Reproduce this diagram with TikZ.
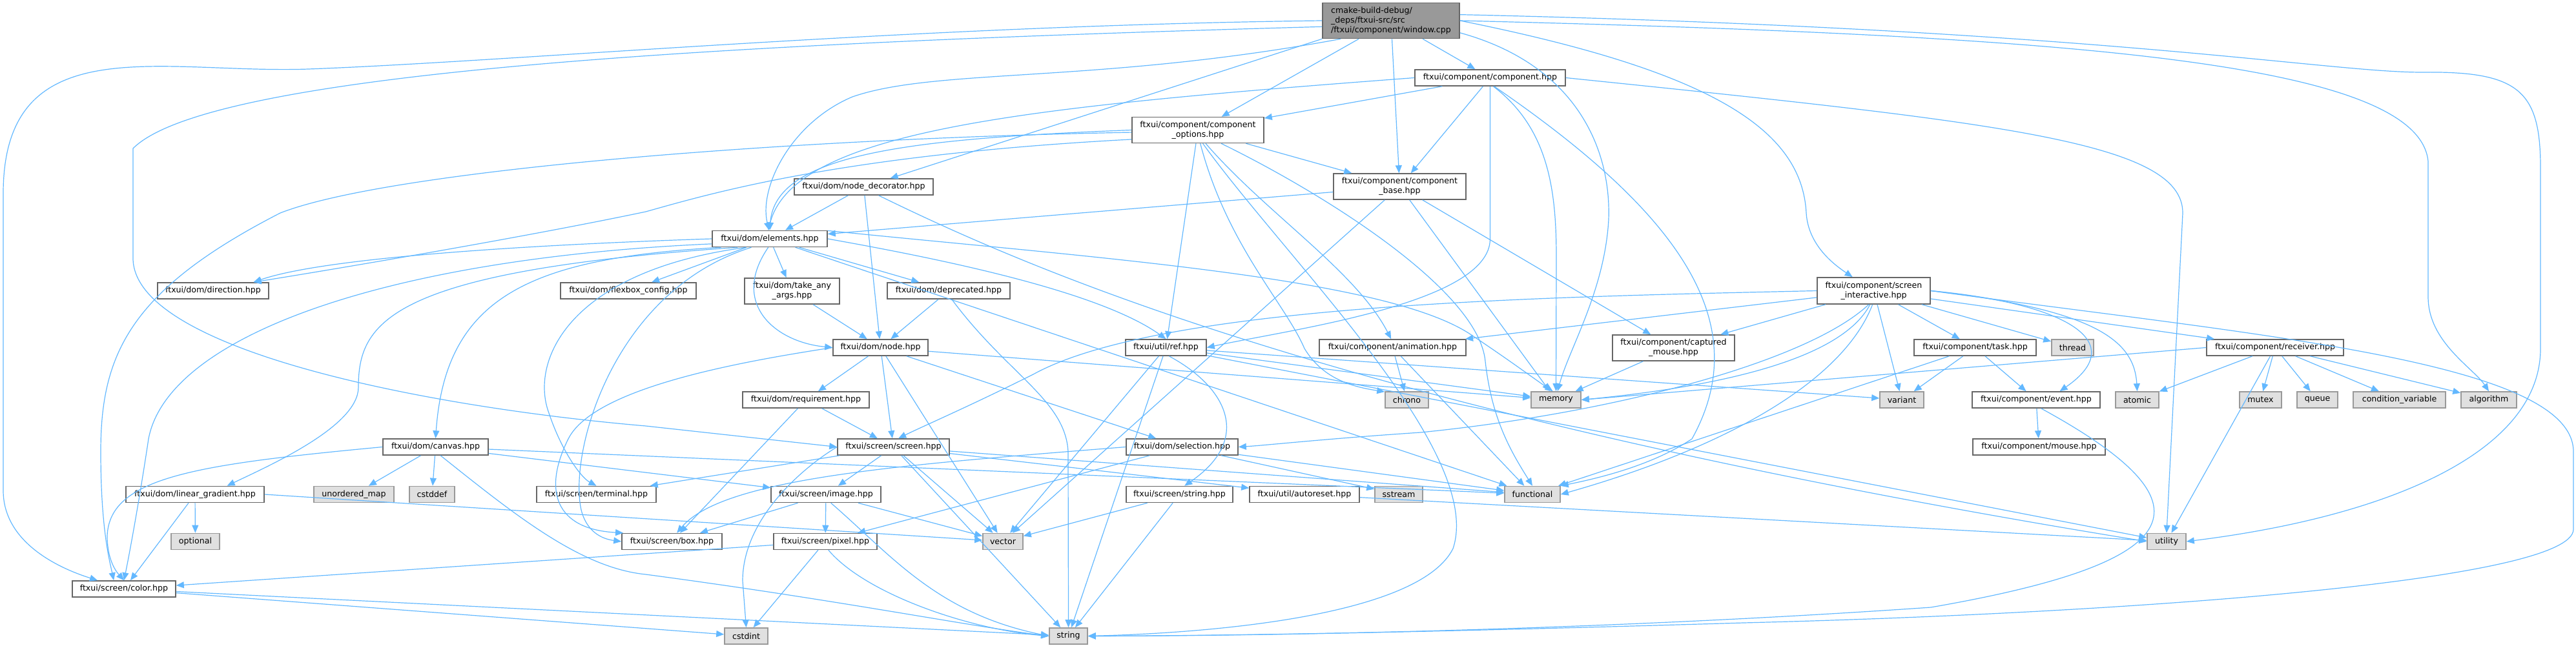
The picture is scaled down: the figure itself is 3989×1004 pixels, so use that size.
\documentclass[tikz,border=0pt]{standalone}
\usepackage{fontspec}
\setmainfont{DejaVu Sans}
\usetikzlibrary{arrows.meta}
\definecolor{edgec}{HTML}{63B8FF}
\definecolor{bord}{HTML}{666666}
\definecolor{sysfill}{HTML}{E0E0E0}
\definecolor{sysbord}{HTML}{999999}
\definecolor{rootfill}{HTML}{999999}
\begin{document}
\begin{tikzpicture}[x=0.5pt,y=-0.5pt,
 hb/.style={draw=bord,fill=white,line width=0.8pt,inner sep=0pt,align=center,font=\fontsize{6.3}{7.5}\selectfont,minimum height=12.5pt},
 sb/.style={hb,draw=sysbord,fill=sysfill},
 rb/.style={hb,fill=rootfill,align=left},
 w/.style={minimum width=#1*0.5pt},
 h/.style={minimum height=#1*0.5pt},
 e/.style={draw=edgec,line width=0.6pt,-{Triangle[length=6pt,width=5pt]}}]
\useasboundingbox (0,0) rectangle (3989,1004);
% nodes
\node[rb,w=212,h=55] (root) at (2154,32) {cmake-build-debug/\\\_deps/ftxui-src/src\\/ftxui/component/window.cpp};
\node[hb,w=233] (comp) at (2307.5,120.5) {ftxui/component/component.hpp};
\node[hb,w=205,h=40] (base) at (2167.5,289) {ftxui/component/component\\\_base.hpp};
\node[hb,w=204,h=40] (opts) at (1855,201.5) {ftxui/component/component\\\_options.hpp};
\node[hb,w=215] (ndec) at (1337.5,289.5) {ftxui/dom/node\_decorator.hpp};
\node[hb,w=178] (elem) at (1192,370) {ftxui/dom/elements.hpp};
\node[hb,w=172] (dir) at (330,450.5) {ftxui/dom/direction.hpp};
\node[hb,w=210] (flex) at (973,450.5) {ftxui/dom/flexbox\_config.hpp};
\node[hb,w=147,h=40] (take) at (1226.5,451) {ftxui/dom/take\_any\\\_args.hpp};
\node[hb,w=190] (depr) at (1469,450.5) {ftxui/dom/deprecated.hpp};
\node[hb,w=147] (nodeh) at (1363.5,538.5) {ftxui/dom/node.hpp};
\node[hb,w=196] (req) at (1248,619.5) {ftxui/dom/requirement.hpp};
\node[hb,w=125] (ref) at (1805.5,538.5) {ftxui/util/ref.hpp};
\node[hb,w=227] (anim) at (2156.5,538.5) {ftxui/component/animation.hpp};
\node[hb,w=189,h=40] (capt) at (2591.5,539) {ftxui/component/captured\\\_mouse.hpp};
\node[hb,w=175,h=41] (sint) at (2901.5,450.5) {ftxui/component/screen\\\_interactive.hpp};
\node[sb,w=67] (chrono) at (2178.5,619.5) {chrono};
\node[sb,w=77] (memory) at (2409.5,619.5) {memory};
\node[sb,w=68] (variant) at (2945,619.5) {variant};
\node[hb,w=189] (task) at (3058.5,538.5) {ftxui/component/task.hpp};
\node[sb,w=65] (thread) at (3209.5,538.5) {thread};
\node[hb,w=212] (recv) at (3523,538.5) {ftxui/component/receiver.hpp};
\node[hb,w=198] (event) at (3153,619.5) {ftxui/component/event.hpp};
\node[sb,w=67] (atomic) at (3309.5,619.5) {atomic};
\node[sb,w=65] (mutex) at (3500.5,619.5) {mutex};
\node[sb,w=63] (queue) at (3588.5,619.5) {queue};
\node[sb,w=143] (condvar) at (3715.5,619.5) {condition\_variable};
\node[sb,w=86] (algo) at (3854,619.5) {algorithm};
\node[hb,w=163] (canvas) at (674.5,692.5) {ftxui/dom/canvas.hpp};
\node[hb,w=214] (lgrad) at (302,766) {ftxui/dom/linear\_gradient.hpp};
\node[sb,w=124] (umap) at (548,766) {unordered\_map};
\node[sb,w=70] (cstddef) at (669,766) {cstddef};
\node[hb,w=185] (term) at (923.5,766) {ftxui/screen/terminal.hpp};
\node[sb,w=75] (optional) at (302.5,839) {optional};
\node[hb,w=160] (color) at (192,912.5) {ftxui/screen/color.hpp};
\node[hb,w=155] (box) at (1040.5,839) {ftxui/screen/box.hpp};
\node[hb,w=173] (screen) at (1383.5,692.5) {ftxui/screen/screen.hpp};
\node[hb,w=173] (sel) at (1830.5,692.5) {ftxui/dom/selection.hpp};
\node[hb,w=170] (image) at (1279,766) {ftxui/screen/image.hpp};
\node[hb,w=165] (strh) at (1826.5,766) {ftxui/screen/string.hpp};
\node[hb,w=170] (autor) at (2020,766) {ftxui/util/autoreset.hpp};
\node[hb,w=160] (pixel) at (1278,839) {ftxui/screen/pixel.hpp};
\node[sb,w=62] (vector) at (1553,839) {vector};
\node[sb,w=67] (cstdint) at (1155.5,985.5) {cstdint};
\node[sb,w=59] (string) at (1654.5,985.5) {string};
\node[sb,w=74] (sstream) at (2166,766) {sstream};
\node[sb,w=86] (functional) at (2373,766) {functional};
\node[hb,w=205] (mouse) at (3157.5,692.5) {ftxui/component/mouse.hpp};
\node[sb,w=60] (utility) at (3355,839) {utility};
% root edges
\draw[e] (root) -- (comp);
\draw[e] (root) -- (base);
\draw[e] (root) -- (opts);
\draw[e] (root.south west) -- (ndec);
\draw[e] (root.200) .. controls (1700,130) and (1450,105) .. (1320,150) .. controls (1225,190) and (1175,290) .. (elem.95);
\draw[e] (root.west) .. controls (1400,40) and (800,95) .. (478,107) .. controls (250,115) and (5,40) .. (5,300) -- (5,760) .. controls (5,840) and (90,880) .. (color.162);
\draw[e] (root.185) .. controls (1200,65) and (330,105) .. (206,230) -- (206,400) .. controls (206,540) and (650,630) .. (1000,660) -- (screen.west);
\draw[e] (root.east) .. controls (2650,110) and (2790,200) .. (2797,330) .. controls (2800,380) and (2840,410) .. (sint.147);
\draw[e] (root.-10) .. controls (2440,100) and (2495,230) .. (2491,340) .. controls (2485,450) and (2430,540) .. (memory.80);
\draw[e] (root.east) .. controls (3200,55) and (3745,95) .. (3760,250) -- (3760,460) .. controls (3760,530) and (3830,570) .. (algo.north);
\draw[e] (root.5) .. controls (3250,45) and (3600,112) .. (3750,112) .. controls (3900,110) and (3934,140) .. (3934,260) -- (3934,540) .. controls (3934,700) and (3700,800) .. (utility.east);
% component.hpp
\draw[e] (comp) -- (base);
\draw[e] (comp) -- (opts);
\draw[e] (comp.west) .. controls (1600,165) and (1230,200) .. (elem.100);
\draw[e] (comp.south) -- (2307.5,370) .. controls (2307.5,470) and (2000,510) .. (ref.east);
\draw[e] (comp.290) .. controls (2400,200) and (2410,300) .. (2410,400) -- (memory.north);
\draw[e] (comp.295) .. controls (2600,330) and (2720,500) .. (2620,680) .. controls (2560,720) and (2480,740) .. (functional.north east);
\draw[e] (comp.east) .. controls (3100,190) and (3380,220) .. (3380,330) -- (utility.north);
% component_options
\draw[e] (opts) -- (base);
\draw[e] (opts.west) .. controls (1400,215) and (1200,240) .. (elem.90);
\draw[e] (opts.188) .. controls (1300,240) and (1100,300) .. (1000,328) .. controls (800,370) and (500,420) .. (dir.12);
\draw[e] (opts.182) .. controls (1200,215) and (600,265) .. (434,330) .. controls (200,450) and (156,550) .. (156,700) .. controls (156,820) and (170,870) .. (color.140);
\draw[e] (opts) -- (ref);
\draw[e] (opts.-60) .. controls (1960,330) and (2100,420) .. (anim.100);
\draw[e] (opts.-80) .. controls (1900,380) and (1990,470) .. (2020,540) .. controls (2050,590) and (2100,600) .. (chrono.160);
\draw[e] (opts.-30) .. controls (2050,300) and (2290,450) .. (2300,560) .. controls (2310,650) and (2340,700) .. (functional.north);
\draw[e] (opts.-70) .. controls (1990,400) and (2300,700) .. (2250,850) .. controls (2200,950) and (1900,980) .. (string.east);
% component_base
\draw[e] (base) -- (elem);
\draw[e] (base) -- (capt);
\draw[e] (base) -- (memory);
\draw[e] (base) -- (vector);
% node_decorator
\draw[e] (ndec) -- (elem);
\draw[e] (ndec) -- (nodeh);
\draw[e] (ndec.-30) .. controls (1600,420) and (2100,640) .. (utility.west);
% elements
\draw[e] (elem.west) .. controls (800,380) and (500,400) .. (dir.12);
\draw[e] (elem) -- (flex);
\draw[e] (elem.190) .. controls (820,400) and (690,460) .. (canvas.north);
\draw[e] (elem.195) .. controls (600,420) and (555,500) .. (555,600) .. controls (555,660) and (420,720) .. (lgrad.15);
\draw[e] (elem.185) .. controls (600,400) and (260,520) .. (230,680) .. controls (215,780) and (200,860) .. (color.north);
\draw[e] (elem.200) .. controls (880,420) and (820,560) .. (850,640) .. controls (870,700) and (900,740) .. (term.north);
\draw[e] (elem.205) .. controls (950,450) and (880,700) .. (900,790) .. controls (910,830) and (940,836) .. (box.west);
\draw[e] (elem) -- (take);
\draw[e] (elem) -- (depr);
\draw[e] (elem.260) .. controls (1130,470) and (1200,530) .. (nodeh.west);
\draw[e] (elem.east) .. controls (1450,400) and (1700,450) .. (ref.north);
\draw[e] (elem.8) .. controls (1700,400) and (2150,430) .. (2280,520) .. controls (2340,560) and (2380,590) .. (memory.110);
\draw[e] (elem) -- (functional);
% take / deprecated
\draw[e] (take) -- (nodeh);
\draw[e] (depr) -- (nodeh);
\draw[e] (depr.290) .. controls (1560,580) and (1650,620) .. (1654,700) -- (string.north);
% node
\draw[e] (nodeh) -- (req);
\draw[e] (nodeh) -- (screen);
\draw[e] (nodeh) -- (vector);
\draw[e] (nodeh) -- (sel);
\draw[e] (nodeh) -- (memory);
\draw[e] (nodeh.west) .. controls (1150,560) and (920,600) .. (880,680) .. controls (840,760) and (860,820) .. (box.170);
% requirement
\draw[e] (req) -- (box);
\draw[e] (req) -- (screen);
% ref
\draw[e] (ref) -- (vector);
\draw[e] (ref.290) .. controls (1900,600) and (1940,680) .. (strh.60);
\draw[e] (ref) -- (memory);
\draw[e] (ref) -- (variant);
\draw[e] (ref) -- (utility);
\draw[e] (ref) -- (string);
% animation, captured mouse
\draw[e] (anim) -- (chrono);
\draw[e] (anim) -- (functional);
\draw[e] (capt) -- (memory);
% screen_interactive
\draw[e] (sint.west) .. controls (2400,460) and (1800,470) .. (1600,580) .. controls (1500,630) and (1430,660) .. (screen.60);
\draw[e] (sint.250) .. controls (2800,560) and (2500,640) .. (2200,670) .. controls (2050,680) and (1960,690) .. (sel.east);
\draw[e] (sint) -- (anim);
\draw[e] (sint) -- (capt);
\draw[e] (sint.255) .. controls (2850,560) and (2650,600) .. (memory.east);
\draw[e] (sint.265) .. controls (2850,600) and (2650,700) .. (functional.east);
\draw[e] (sint) -- (variant);
\draw[e] (sint) -- (task);
\draw[e] (sint) -- (thread);
\draw[e] (sint.east) .. controls (3250,480) and (3305,530) .. (atomic.north);
\draw[e] (sint.east) .. controls (3200,470) and (3300,530) .. (event.20);
\draw[e] (sint) -- (recv);
\draw[e] (sint.east) .. controls (3500,520) and (3985,560) .. (3985,700) -- (3985,820) .. controls (3985,900) and (3300,950) .. (2700,965) .. controls (2200,980) and (1900,985) .. (string.east);
% task, receiver, event
\draw[e] (task) -- (event);
\draw[e] (task) -- (variant);
\draw[e] (task) -- (functional);
\draw[e] (recv) -- (atomic);
\draw[e] (recv) -- (mutex);
\draw[e] (recv) -- (queue);
\draw[e] (recv) -- (condvar);
\draw[e] (recv) -- (algo);
\draw[e] (recv.west) -- (memory.east);
\draw[e] (recv) -- (utility);
\draw[e] (event) -- (mouse);
\draw[e] (event.300) .. controls (3430,780) and (3400,870) .. (2990,941) .. controls (2500,975) and (2000,985) .. (string.east);
% canvas, linear gradient
\draw[e] (canvas.west) .. controls (300,720) and (170,740) .. (166,830) .. controls (166,860) and (175,880) .. (color.north);
\draw[e] (canvas) -- (umap);
\draw[e] (canvas) -- (cstddef);
\draw[e] (canvas) -- (image);
\draw[e] (canvas) -- (functional);
\draw[e] (canvas.300) .. controls (800,800) and (900,880) .. (1000,890) .. controls (1300,930) and (1500,970) .. (string.west);
\draw[e] (lgrad) -- (color);
\draw[e] (lgrad) -- (optional);
\draw[e] (lgrad.east) -- (vector);
% screen
\draw[e] (screen.west) .. controls (1250,720) and (1150,800) .. (1150,900) -- (cstdint.north);
\draw[e] (screen) -- (term);
\draw[e] (screen) -- (image);
\draw[e] (screen) -- (string);
\draw[e] (screen) -- (vector);
\draw[e] (screen) -- (functional);
\draw[e] (screen) -- (autor);
% selection
\draw[e] (sel.west) .. controls (1400,720) and (1120,740) .. (box.60);
\draw[e] (sel) -- (pixel);
\draw[e] (sel) -- (sstream);
\draw[e] (sel) -- (functional);
% image, pixel, string.hpp, autoreset, color
\draw[e] (image) -- (box);
\draw[e] (image) -- (pixel);
\draw[e] (image) -- (vector);
\draw[e] (image.300) .. controls (1380,860) and (1450,950) .. (string.west);
\draw[e] (pixel) -- (cstdint);
\draw[e] (pixel.290) .. controls (1340,920) and (1500,975) .. (string.west);
\draw[e] (pixel) -- (color);
\draw[e] (strh) -- (vector);
\draw[e] (strh) -- (string);
\draw[e] (autor) -- (utility);
\draw[e] (color) -- (cstdint);
\draw[e] (color) -- (string);
\end{tikzpicture}
\end{document}
